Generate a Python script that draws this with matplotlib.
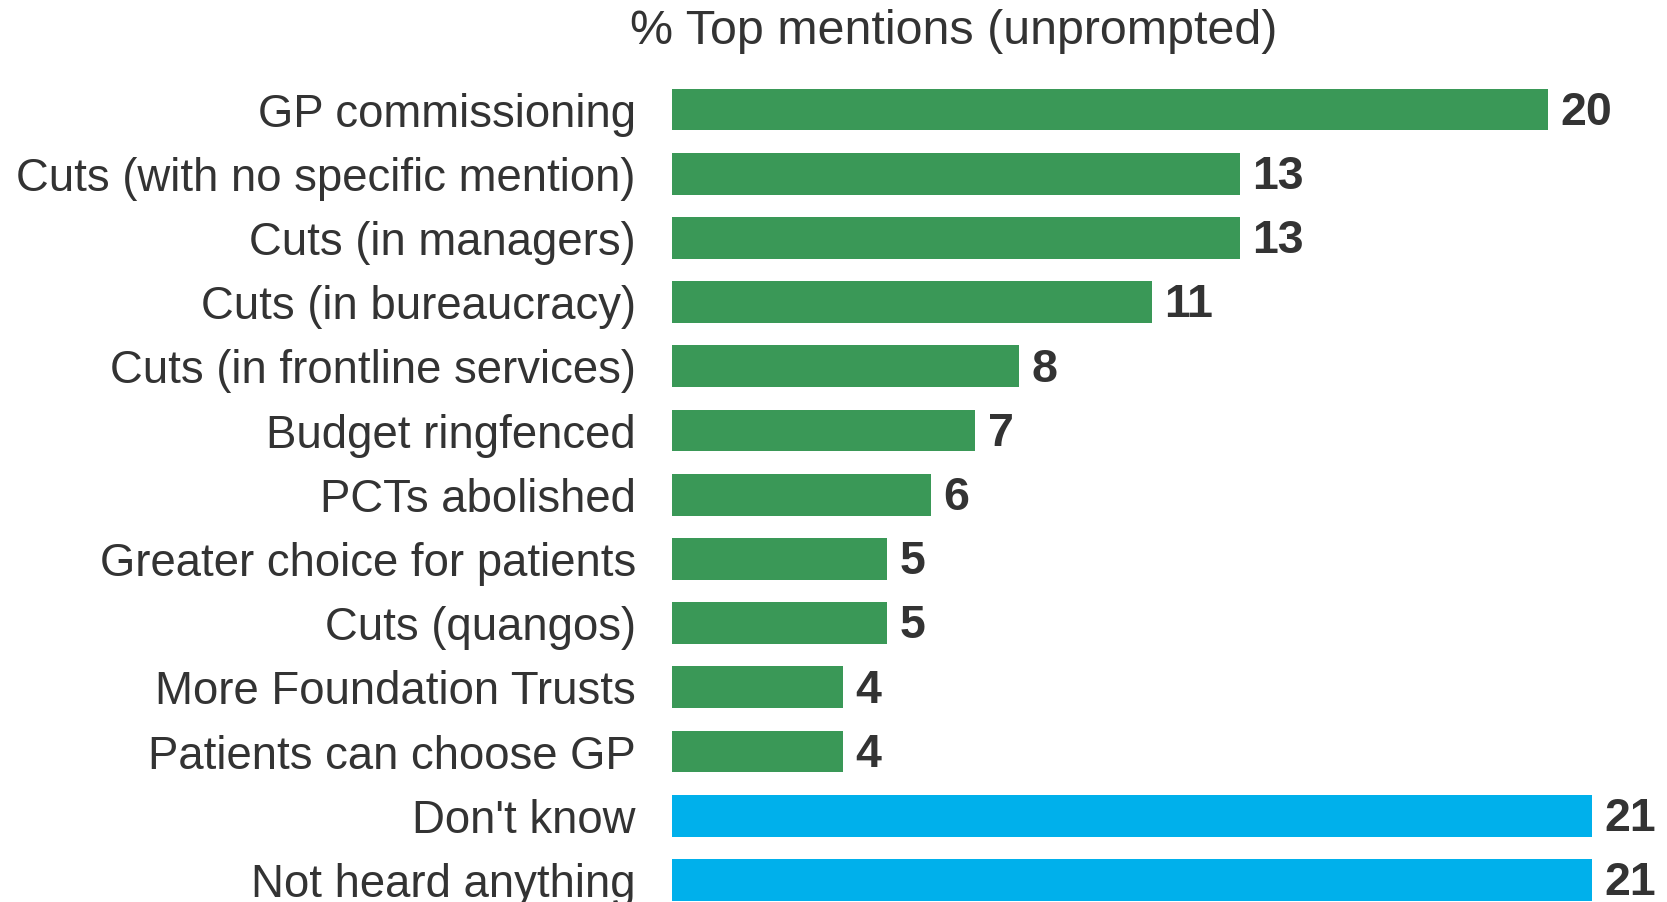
import matplotlib
matplotlib.use("Agg")
import matplotlib.pyplot as plt

plt.rcParams["font.family"] = ["Liberation Sans", "DejaVu Sans"]

categories = [
    "GP commissioning",
    "Cuts (with no specific mention)",
    "Cuts (in managers)",
    "Cuts (in bureaucracy)",
    "Cuts (in frontline services)",
    "Budget ringfenced",
    "PCTs abolished",
    "Greater choice for patients",
    "Cuts (quangos)",
    "More Foundation Trusts",
    "Patients can choose GP",
    "Don't know",
    "Not heard anything",
]
values = [20, 13, 13, 11, 8, 7, 6, 5, 5, 4, 4, 21, 21]
groups = ["mention"] * 11 + ["none"] * 2
title = "% Top mentions (unprompted)"

GREEN = "#3A9857"
BLUE = "#00B0EB"
TEXT = "#333333"

W, H = 1667, 902
PX_PER_UNIT = 44.06
X0 = 0.116  # bars start slightly left of the visible edge
ax_w = 980
fig = plt.figure(figsize=(W / 100, H / 100), dpi=100)
ax = fig.add_axes([672 / W, 0, ax_w / W, 1])

colors = [GREEN if g == "mention" else BLUE for g in groups]
ypos = list(range(len(categories)))
ax.barh(ypos, values, height=0.65, color=colors)
ax.set_xlim(X0, X0 + ax_w / PX_PER_UNIT)
ax.set_ylim(12.344, -1.706)

for y, v in zip(ypos, values):
    ax.annotate(str(v), (v, y), xytext=(9, -2.3), textcoords="offset points",
                va="center", ha="left", fontsize=33.5, fontweight="bold",
                color=TEXT, annotation_clip=False)

ax.set_yticks(ypos)
ax.set_yticklabels(categories, fontsize=32.8, color=TEXT)
ax.tick_params(axis="y", length=0, pad=26)
ax.set_xticks([])
for s in ax.spines.values():
    s.set_visible(False)

fig.text(954 / W, 1 - 32 / H, title, ha="center", va="center",
         fontsize=34.8, color=TEXT)

fig.savefig("out.png", dpi=100)
